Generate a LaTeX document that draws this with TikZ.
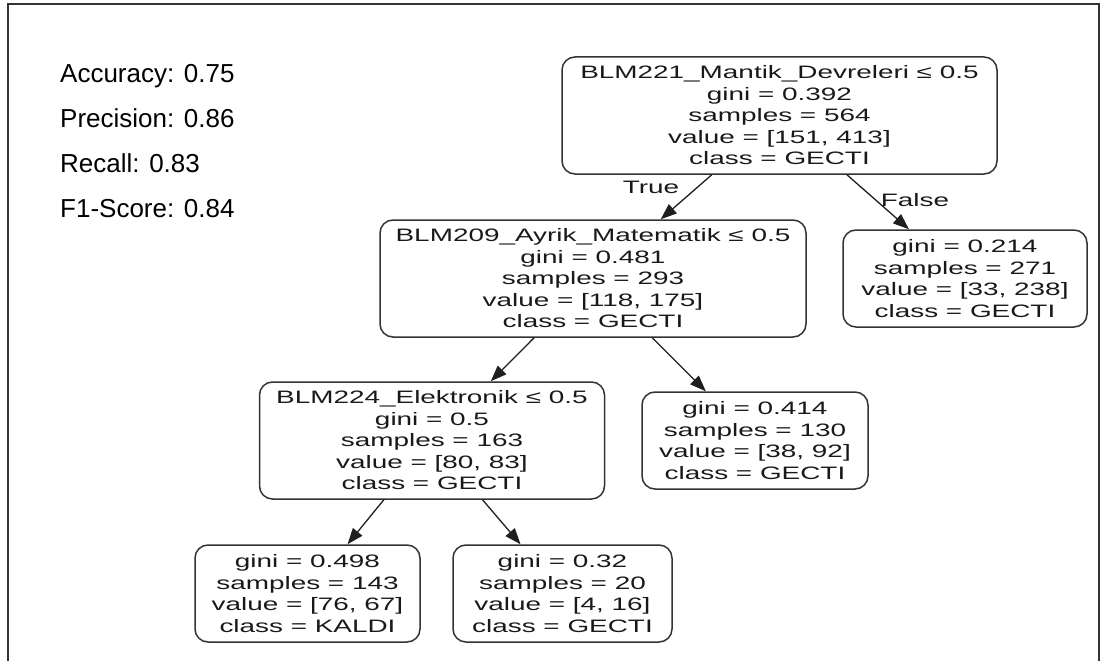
\documentclass[tikz,border=0pt]{standalone}
\usepackage{fontspec}
\setmainfont{Liberation Sans}
\newfontfamily\nodefont[FakeStretch=1.55]{Liberation Sans}
\usetikzlibrary{arrows.meta}
\begin{document}
\begin{tikzpicture}[x=1pt,y=-1pt,
  treebox/.style={draw=black!80, line width=1.5pt, rounded corners=13pt, align=center,
    inner sep=0pt, text=black!90, font=\nodefont\fontsize{18}{21.5}\selectfont},
  link/.style={draw=black!88, line width=1.3pt, -{Triangle[length=16pt,width=12pt]}},
  elabel/.style={inner sep=0pt, text=black!90, font=\nodefont\fontsize{18}{21.5}\selectfont},
  metric/.style={anchor=base west, inner sep=0pt, text=black, font=\fontsize{26}{30}\selectfont},
  frameline/.style={draw=black!80, line width=1.2pt}]
\useasboundingbox (0,0) rectangle (1101,661);
\draw[frameline] (8,661) -- (8,4) -- (1099,4) -- (1099,661);

\node[metric] (acc) at (60,82) {Accuracy: 0.75};
\node[metric] (prec) at (60,127) {Precision: 0.86};
\node[metric] (rec) at (60,172) {Recall: 0.83};
\node[metric] (f1) at (60,217) {F1-Score: 0.84};

\node[treebox, minimum width=435pt, minimum height=117pt] (root) at (779.5,115.5)
  {BLM221\_Mantik\_Devreleri ≤ 0.5\\gini = 0.392\\samples = 564\\value = [151, 413]\\class = GECTI};
\node[treebox, minimum width=426pt, minimum height=117pt] (n209) at (593,278.5)
  {BLM209\_Ayrik\_Matematik ≤ 0.5\\gini = 0.481\\samples = 293\\value = [118, 175]\\class = GECTI};
\node[treebox, minimum width=244pt, minimum height=97pt] (nF) at (965,278.5)
  {gini = 0.214\\samples = 271\\value = [33, 238]\\class = GECTI};
\node[treebox, minimum width=345pt, minimum height=117pt] (n224) at (432,440.5)
  {BLM224\_Elektronik ≤ 0.5\\gini = 0.5\\samples = 163\\value = [80, 83]\\class = GECTI};
\node[treebox, minimum width=226pt, minimum height=97pt] (n130) at (755,440.5)
  {gini = 0.414\\samples = 130\\value = [38, 92]\\class = GECTI};
\node[treebox, minimum width=225pt, minimum height=97pt] (nK) at (307.5,593.5)
  {gini = 0.498\\samples = 143\\value = [76, 67]\\class = KALDI};
\node[treebox, minimum width=219pt, minimum height=97pt] (n20) at (562.5,593.5)
  {gini = 0.32\\samples = 20\\value = [4, 16]\\class = GECTI};

\draw[link] (root) -- (n209);
\draw[link] (root) -- (nF);
\draw[link] (n209) -- (n224);
\draw[link] (n209) -- (n130);
\draw[link] (n224) -- (nK);
\draw[link] (n224) -- (n20);

\node[elabel] (ltrue) at (651,187) {True};
\node[elabel] (lfalse) at (915,200) {False};
\end{tikzpicture}
\end{document}
